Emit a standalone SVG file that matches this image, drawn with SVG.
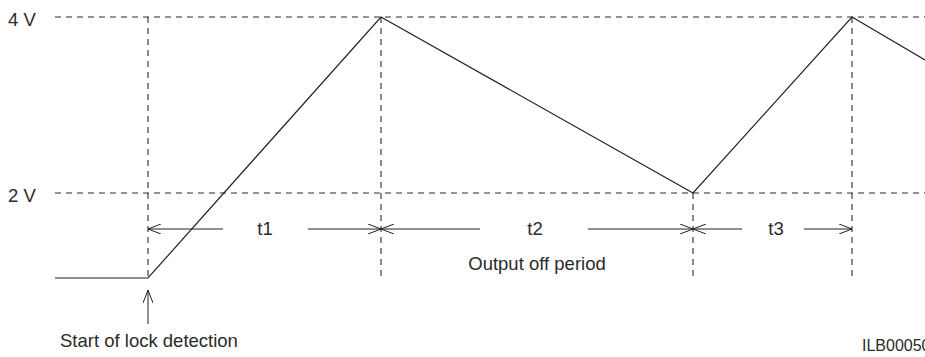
<svg xmlns="http://www.w3.org/2000/svg" width="925" height="357" viewBox="0 0 925 357">
<style>
.d{stroke:#2a2a2a;stroke-width:1.1;stroke-dasharray:6,5;fill:none}
.s{stroke:#222;stroke-width:1.2;fill:none}
.a{stroke:#222;stroke-width:1;fill:none}
text{font-family:"Liberation Sans",Arial,sans-serif;font-size:18.5px;fill:#2a2a2a}
</style>
<defs>
<marker id="ah" markerWidth="14" markerHeight="10" refX="13" refY="5" orient="auto-start-reverse" markerUnits="userSpaceOnUse">
<path d="M0,0 L13,5 L0,10" fill="none" stroke="#222" stroke-width="1"/>
</marker>
</defs>
<g id="grid">
<line class="d" x1="55" y1="17" x2="925" y2="17"/>
<line class="d" x1="55" y1="193" x2="925" y2="193"/>
<line class="d" x1="148" y1="17" x2="148" y2="280"/>
<line class="d" x1="381" y1="17" x2="381" y2="280"/>
<line class="d" x1="693" y1="193" x2="693" y2="280"/>
<line class="d" x1="852" y1="17" x2="852" y2="280"/>
</g>
<g id="labels-axis">
<text x="8" y="26">4 V</text>
<text x="8" y="202">2 V</text>
</g>
<g id="waveform">
<polyline class="s" points="55,278 148,278 381,17 693,193 852,17 925,60"/>
</g>
<g id="connectors">
<line class="a" x1="223" y1="229" x2="148" y2="229" marker-end="url(#ah)"/>
<line class="a" x1="308" y1="229" x2="381" y2="229" marker-end="url(#ah)"/>
<line class="a" x1="480" y1="229" x2="381" y2="229" marker-end="url(#ah)"/>
<line class="a" x1="588" y1="229" x2="693" y2="229" marker-end="url(#ah)"/>
<line class="a" x1="742" y1="229" x2="693" y2="229" marker-end="url(#ah)"/>
<line class="a" x1="804" y1="229" x2="852" y2="229" marker-end="url(#ah)"/>
<line class="a" x1="148" y1="324" x2="148" y2="290" marker-end="url(#ah)"/>
</g>
<g id="t1"><text x="265" y="235" text-anchor="middle">t1</text></g>
<g id="t2"><text x="535" y="235" text-anchor="middle">t2</text></g>
<g id="t3"><text x="776" y="235" text-anchor="middle">t3</text></g>
<g id="off"><text x="537" y="270" text-anchor="middle">Output off period</text></g>
<g id="start"><text x="60" y="347">Start of lock detection</text></g>
<g id="code"><text x="862" y="351" style="font-size:16px">ILB00050</text></g>
</svg>
